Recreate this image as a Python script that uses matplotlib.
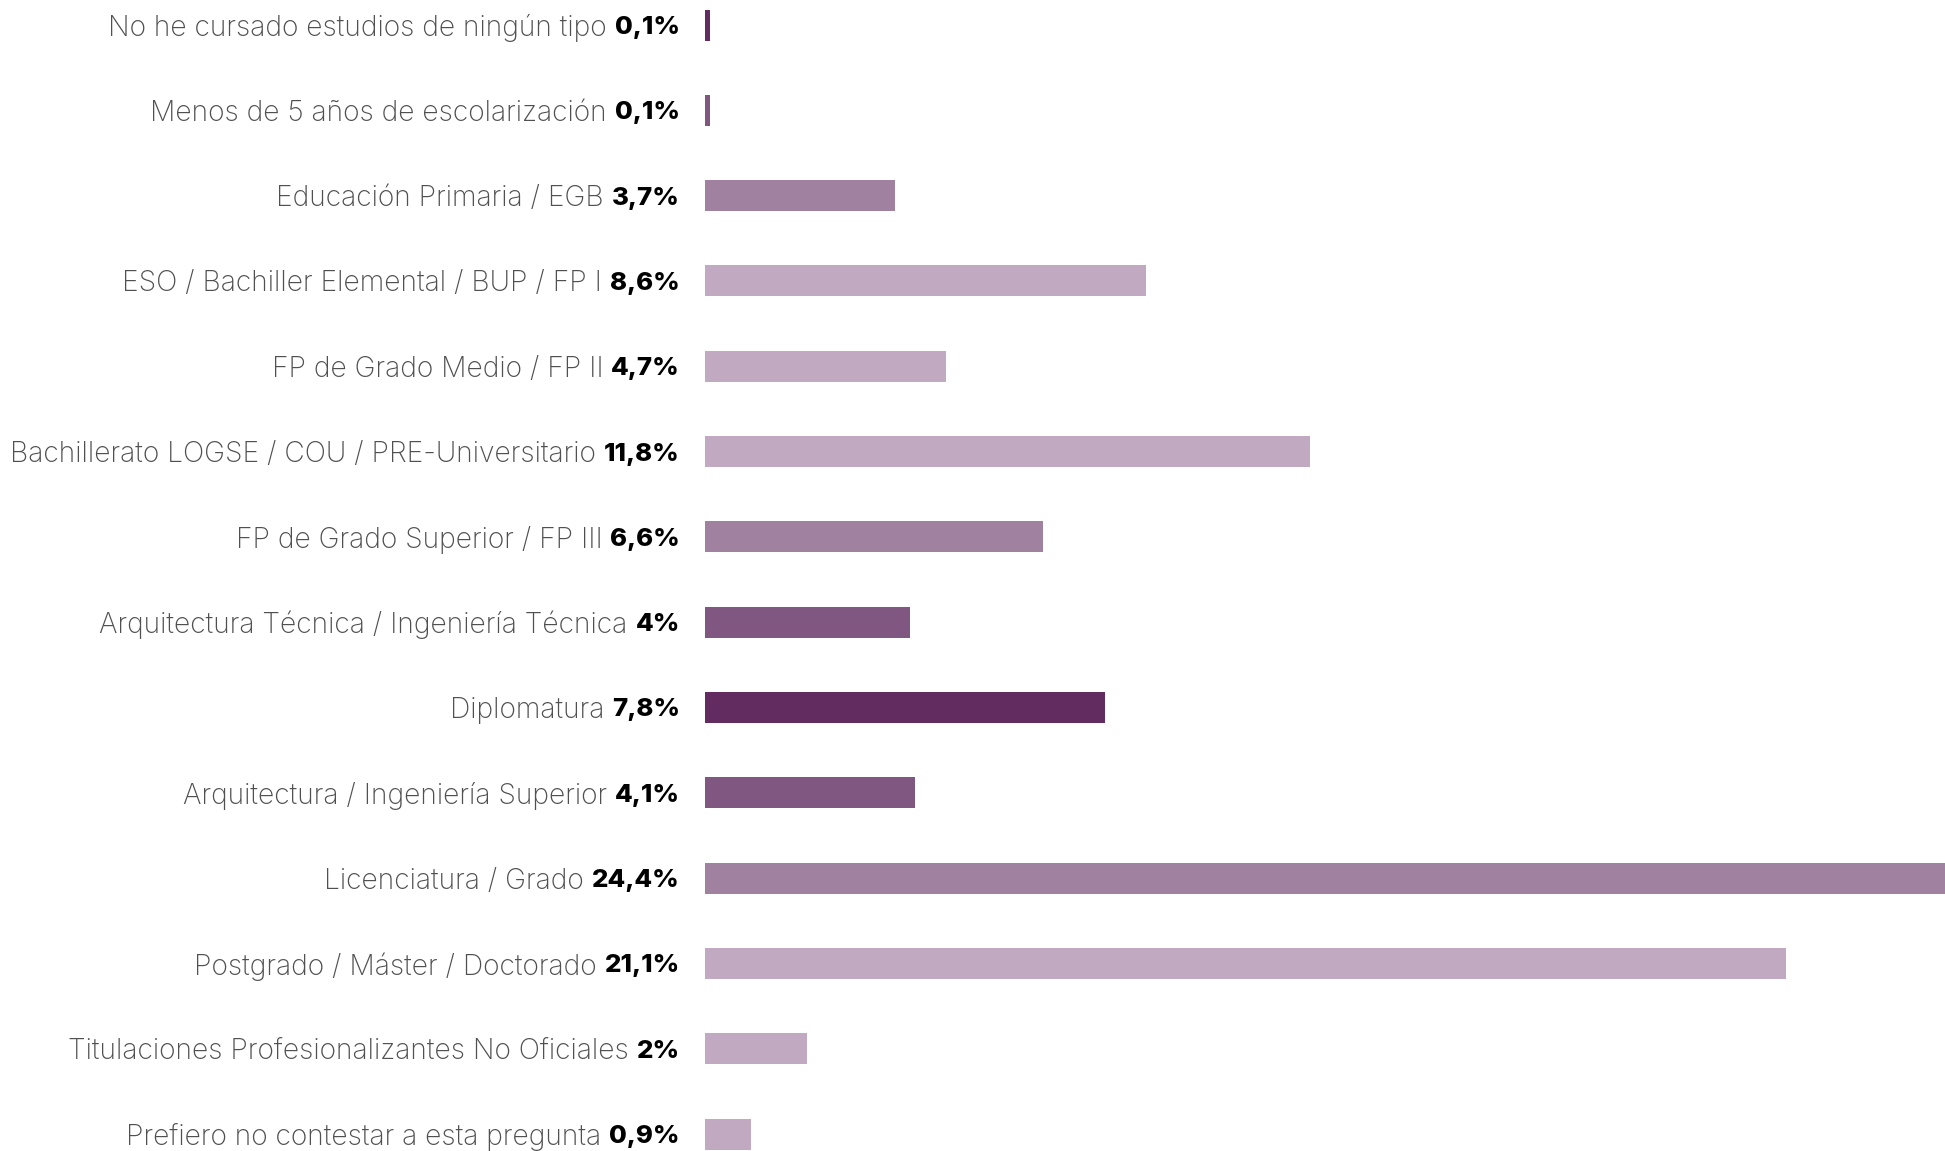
import matplotlib
matplotlib.use("Agg")
import matplotlib.pyplot as plt
from matplotlib import font_manager

categories = [
    "No he cursado estudios de ningún tipo",
    "Menos de 5 años de escolarización",
    "Educación Primaria / EGB",
    "ESO / Bachiller Elemental / BUP / FP I",
    "FP de Grado Medio / FP II",
    "Bachillerato LOGSE / COU / PRE-Universitario",
    "FP de Grado Superior / FP III",
    "Arquitectura Técnica / Ingeniería Técnica",
    "Diplomatura",
    "Arquitectura / Ingeniería Superior",
    "Licenciatura / Grado",
    "Postgrado / Máster / Doctorado",
    "Titulaciones Profesionalizantes No Oficiales",
    "Prefiero no contestar a esta pregunta",
]
values = [0.1, 0.1, 3.7, 8.6, 4.7, 11.8, 6.6, 4.0, 7.8, 4.1, 24.4, 21.1, 2.0, 0.9]
value_labels = ["0,1%", "0,1%", "3,7%", "8,6%", "4,7%", "11,8%", "6,6%", "4%",
                "7,8%", "4,1%", "24,4%", "21,1%", "2%", "0,9%"]

DARK = "#622c60"
MIDDARK = "#7f5780"
MID = "#a0819f"
LIGHT = "#c1aac1"
bar_colors = [DARK, MIDDARK, MID, LIGHT, LIGHT, LIGHT, MID, MIDDARK,
              DARK, MIDDARK, MID, LIGHT, LIGHT, LIGHT]

names = {f.name for f in font_manager.fontManager.ttflist}
family = "Inter" if "Inter" in names else "Lato"

W, H = 1945, 1151
fig = plt.figure(figsize=(W / 100, H / 100), dpi=100)

# rows: first centre at y=25px, last at y=1134px (last bar cut by bottom edge)
n = len(categories)
step = (1134 - 25) / (n - 1)
top = 25 - step / 2
ax_h = step * n
ax = fig.add_axes([705 / W, 1 - (top + ax_h) / H, 1 - 705 / W, ax_h / H])

ypos = list(range(n))
ax.barh(ypos, values, height=31 / step, color=bar_colors, edgecolor="none")
ax.set_xlim(0, 24.2)
ax.set_ylim(n - 0.5, -0.5)
ax.axis("off")

renderer = fig.canvas.get_renderer()
for i, (cat, lab) in enumerate(zip(categories, value_labels)):
    yc = 1 - (25 + i * step) / H
    t = fig.text(680 / W, yc, lab, ha="right", va="center_baseline", fontsize=18.6,
                 fontfamily=family, fontweight="heavy", color="#000000")
    bb = t.get_window_extent(renderer)
    fig.text((bb.x0 - 8) / W, yc, cat, ha="right", va="center_baseline", fontsize=20.3,
             fontfamily=family, fontweight="light", color="#505050")

fig.savefig("out.png", dpi=100)
